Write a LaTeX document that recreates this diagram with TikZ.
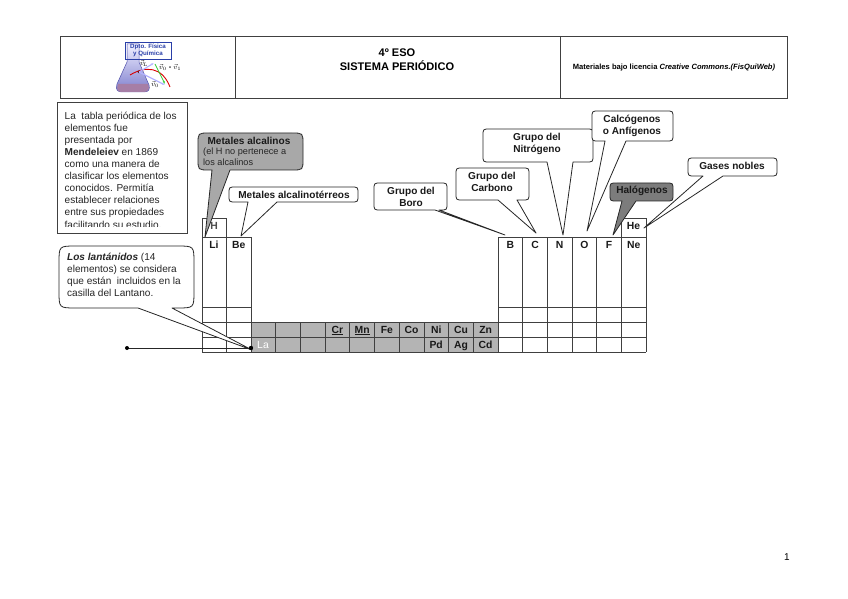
\documentclass[tikz,border=0pt]{standalone}
\usepackage{fontspec}
\setmainfont{Liberation Sans}
\usetikzlibrary{arrows.meta}
\definecolor{linegray}{HTML}{404040}
\definecolor{cellgray}{HTML}{B4B4B4}
\definecolor{midgray}{HTML}{A8A8A8}
\definecolor{darkgray}{HTML}{7C7C7C}
\definecolor{logoblue}{HTML}{2A3FA8}
\def\bubo{7}
\newcommand{\bubble}[9]{%
  \draw[#1,line join=round] (#6,#5) -- (#8,#9) -- (#7,#5) -- (#4-\bubo,#5)
    .. controls (#4,#5) .. (#4,#5-\bubo) -- (#4,#3+\bubo)
    .. controls (#4,#3) .. (#4-\bubo,#3) -- (#2+\bubo,#3)
    .. controls (#2,#3) .. (#2,#3+\bubo) -- (#2,#5-\bubo)
    .. controls (#2,#5) .. (#2+\bubo,#5) -- cycle;}
\tikzset{
  x=1bp,y=-1bp,
  frame/.style={draw=linegray,line width=0.9pt},
  grid/.style={draw=linegray,line width=0.75pt},
  bub/.style={draw=black!85,line width=0.8pt,fill=white},
  bubgray/.style={bub,fill=midgray},
  bubdark/.style={bub,fill=darkgray},
  elem/.style={font=\fontsize{10.4}{12}\selectfont\bfseries,inner sep=0pt,text=black!90},
  lab/.style={font=\fontsize{10.1}{12.2}\selectfont\bfseries,inner sep=0pt,align=center,text=black!90},
  para/.style={font=\fontsize{10.1}{12.15}\selectfont,inner sep=0pt,align=left,anchor=north west,text=black!85},
}
\begin{document}
\begin{tikzpicture}
\useasboundingbox (0,0) rectangle (848,599);
% header
\draw[frame] (60,36) rectangle (787,98);
\draw[frame] (235,36) -- (235,98);
\draw[frame] (560,36) -- (560,98);
\node[inner sep=0pt,align=center,font=\fontsize{11.1}{14}\selectfont\bfseries] (title) at (397,60) {4º ESO\\SISTEMA PERIÓDICO};
\node[inner sep=0pt,font=\fontsize{7.6}{8}\selectfont\bfseries] (lic) at (674,67.5) {Materiales bajo licencia \textit{Creative Commons.(FisQuiWeb)}};
% logo
\shade[top color=blue!6,bottom color=blue!45!gray!70,draw=blue!35!gray,line width=0.5pt]
  (127,44) -- (127,62) -- (117,84) .. controls (115,90) and (118,92) .. (122,92) -- (144,92)
  .. controls (149,92) and (150,89) .. (149,85) -- (139,62) -- (139,44) -- cycle;
\fill[violet!45!gray!70] (118,84) -- (148,84) -- (149,88) .. controls (149,91) and (146,92) .. (144,92) -- (122,92) .. controls (118,92) and (116,90) .. (118,84) -- cycle;
\draw[red!85!black,line width=0.9pt] (130,75) .. controls (145,66) and (162,66) .. (170,87);
\fill[black!70!red] (139,72) circle (1.5);
\draw[blue!30,line width=1.2pt,-{Latex[length=3pt]}] (139,72) -- (154,63);
\draw[blue!30,line width=1.2pt,-{Latex[length=3pt]}] (139,72) -- (165,85);
\draw[green!60!gray,line width=0.8pt,-{Latex[length=3pt]}] (155,64) -- (165,84);
\node[inner sep=0pt,font=\fontsize{7.5}{8}\selectfont\bfseries] (vl) at (144,63.5) {$\vec{v}_{\!L}$};
\node[inner sep=0pt,font=\fontsize{7.5}{8}\selectfont\bfseries] (vd) at (170,67) {$\vec{v}_{0}$ - $\vec{v}_{1}$};
\node[inner sep=0pt,font=\fontsize{7.5}{8}\selectfont\bfseries] (vo) at (155,84) {$\vec{v}_{0}$};
\draw[logoblue,line width=0.8pt] (125,42) rectangle (171,59);
\node[inner sep=0pt,align=center,text=logoblue,font=\fontsize{6.2}{7.2}\selectfont\bfseries] (dpto) at (148,50.5) {Dpto. Física\\y Química};
% text box
\draw[frame,fill=white] (57,102) rectangle (187,233);
\begin{scope}
\clip (58,103) rectangle (186,226.5);
\node[para] (intro) at (64.5,111.5) {La\ \ tabla periódica de los\\elementos fue\\presentada por\\\textbf{Mendeleiev} en 1869\\como una manera de\\clasificar los elementos\\conocidos. Permitía\\establecer relaciones\\entre sus propiedades\\facilitando su estudio.};
\end{scope}
% table
\fill[cellgray] (251,322) rectangle (498,352);
\draw[grid] (202,218.5) rectangle (226.5,237);
\draw[grid] (621.5,218.5) rectangle (646,237);
\draw[grid] (202,237) -- (251,237);
\draw[grid] (498,237) -- (646,237);
\foreach \yy in {307} {
  \draw[grid] (202,\yy) -- (251,\yy);
  \draw[grid] (498,\yy) -- (646,\yy);
}
\foreach \yy in {322,337,352} \draw[grid] (202,\yy) -- (646,\yy);
\foreach \xx in {202,226.5,251,498,522.7,547.3,572,596.7,621.5,646} \draw[grid] (\xx,237) -- (\xx,352);
\foreach \xx in {275.7,300.4,325.1,349.8,374.5,399.2,423.9,448.6,473.3} \draw[grid] (\xx,322) -- (\xx,352);
% callouts
\def\bubo{11}
\bubble{bubgray}{198}{133}{303}{170}{212}{230}{205}{237}
\def\bubo{7}
\bubble{bub}{229}{187}{358}{202}{248}{277}{241}{236}
\bubble{bub}{374}{183}{447}{210}{435}{439}{505}{235}
\bubble{bub}{456}{168}{529}{200}{498}{517}{536}{233}
\bubble{bub}{483}{129}{593}{162}{547}{573}{563}{235}
\bubble{bub}{592}{111}{673}{141}{605}{626}{587}{231}
\bubble{bubdark}{610}{183}{673}{201}{622}{636}{613}{235}
\bubble{bub}{688}{158}{777}{176}{703}{723}{644}{228}
\def\bubo{17}
\bubble{bub}{59}{246}{194}{308}{138}{172}{252}{350}
% callout texts
\node[lab] (mal) at (249,141) {Metales alcalinos};
\node[font=\fontsize{9.2}{11.5}\selectfont,inner sep=0pt,align=left,anchor=north west,text=black!85] (malb) at (203,147.5) {(el H no pertenece a\\los alcalinos};
\node[lab] (mat) at (294,194.5) {Metales alcalinotérreos};
\node[lab] (boro) at (411,196.5) {Grupo del\\Boro};
\node[lab] (carb) at (492,182) {Grupo del\\Carbono};
\node[lab] (nitr) at (537,143.5) {Grupo del\\Nitrógeno};
\node[lab] (calc) at (632,125.5) {Calcógenos\\o Anfígenos};
\node[lab] (halo) at (642,191) {Halógenos};
\node[lab] (gases) at (732,165.5) {Gases nobles};
\node[para] (lant) at (67,252.5) {\textbf{\textit{Los lantánidos}} (14\\elementos) se considera\\que están\ \ incluidos en la\\casilla del Lantano.};
% La line
\coordinate (la0) at (127,348);
\coordinate (la1) at (251,348);
\draw[line width=0.8pt,black!85] (la0) -- (la1);
\fill[black] (la0) circle (2);
\fill[black] (la1) circle (2.2);
% elements
\node[elem,text=black!70] (H) at (214,226) {H};
\node[elem] (He) at (633.5,226) {He};
\node[elem] (Li) at (214,245) {Li};
\node[elem] (Be) at (238.7,245) {Be};
\node[elem] (B) at (510.3,245) {B};
\node[elem] (C) at (535,245) {C};
\node[elem] (N) at (559.7,245) {N};
\node[elem] (O) at (584.3,245) {O};
\node[elem] (F) at (609,245) {F};
\node[elem] (Ne) at (633.7,245) {Ne};
\node[elem,anchor=base] (Cr) at (337.5,333) {\underline{Cr}};
\node[elem,anchor=base] (Mn) at (362.2,333) {\underline{Mn}};
\node[elem,anchor=base] (Fe) at (386.9,333) {Fe};
\node[elem,anchor=base] (Co) at (411.5,333) {Co};
\node[elem,anchor=base] (Ni) at (436.2,333) {Ni};
\node[elem,anchor=base] (Cu) at (461,333) {Cu};
\node[elem,anchor=base] (Zn) at (485.6,333) {Zn};
\node[elem,anchor=base] (Pd) at (436.2,348) {Pd};
\node[elem,anchor=base] (Ag) at (461,348) {Ag};
\node[elem,anchor=base] (Cd) at (485.6,348) {Cd};
\node[elem,anchor=base,text=white,font=\fontsize{10.4}{12}\selectfont] (La) at (263,348) {La};
\node[inner sep=0pt,font=\fontsize{10}{11}\selectfont] (page) at (787,557) {1};
\end{tikzpicture}
\end{document}
